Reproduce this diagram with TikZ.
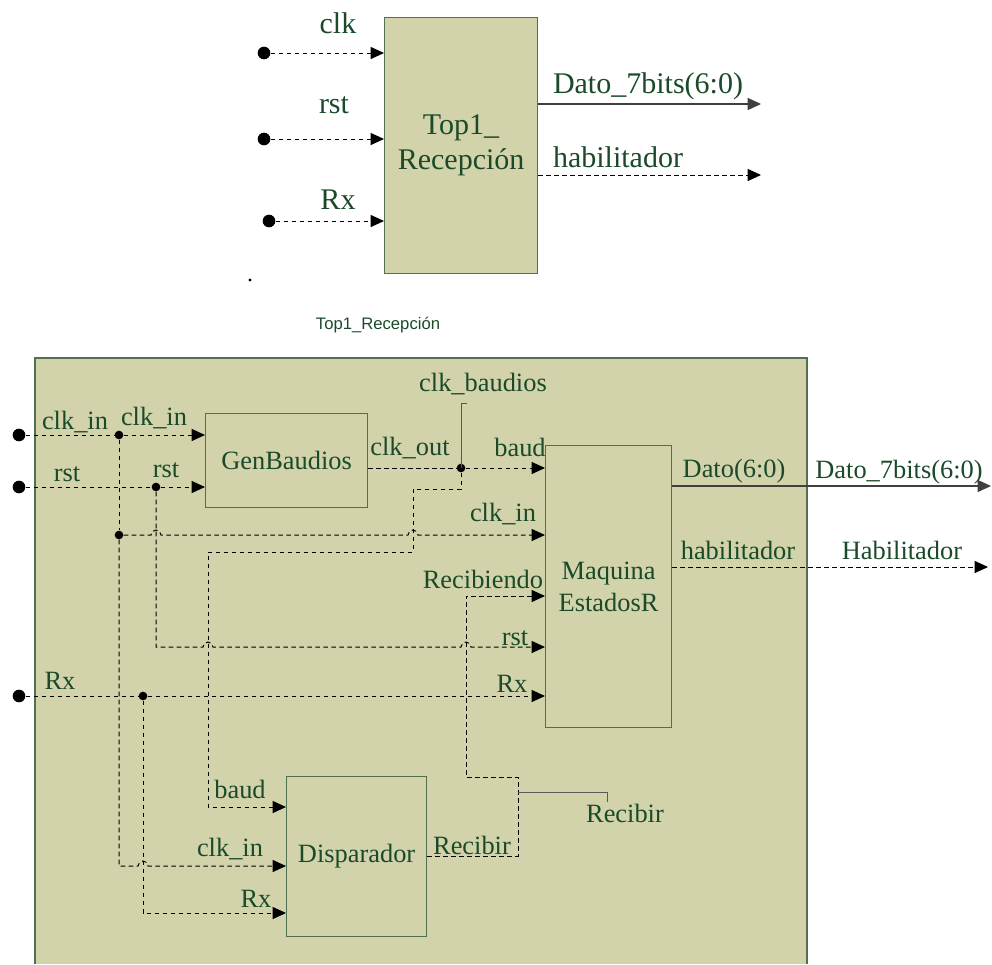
\documentclass[tikz,border=0pt]{standalone}
\usepackage{fontspec}
\setmainfont{Liberation Serif}
\newfontfamily\labelface{Liberation Serif}
\newfontfamily\capfont{Liberation Sans}
\usetikzlibrary{arrows.meta,calc}
\definecolor{panel}{RGB}{210,211,170}
\definecolor{edge}{RGB}{80,112,80}
\definecolor{ink}{RGB}{26,74,42}
\begin{document}
\begin{tikzpicture}[x=0.75pt,y=-0.75pt,
  lbl/.style={inner sep=0pt, text=ink, font=\labelface\fontsize{19.8}{24}\selectfont},
  biglbl/.style={inner sep=0pt, text=ink, font=\labelface\fontsize{22.5}{26.25}\selectfont},
  blk/.style={draw=edge, fill=panel, line width=0.9pt, anchor=north west, inner sep=0pt,
              text=ink, align=center, font=\labelface\fontsize{19.8}{24}\selectfont},
  sig/.style={draw=black, line width=0.75pt, dash pattern=on 3.5pt off 2.5pt,
              -{Triangle[length=10pt,width=9pt]}},
  wire/.style={draw=black, line width=0.75pt, dash pattern=on 3.5pt off 2.5pt},
  bus/.style={draw=black!75, line width=1pt, -{Triangle[length=10pt,width=9pt]}},
  port/.style={circle, fill=black, inner sep=0pt, minimum size=9.5pt},
  joint/.style={circle, fill=black, inner sep=0pt, minimum size=6.5pt},
  callout/.style={draw=black!65, line width=0.75pt},
]
\useasboundingbox (0,0) rectangle (992,964);

% ---------- entity symbol ----------
\node[blk, minimum width=114.75pt, minimum height=192pt,
      font=\labelface\fontsize{22.5}{26.25}\selectfont] (T) at (384,17) {Top1\_\\Recepción};

\node[port] (tClk) at (264,53) {};
\node[port] (tRst) at (264,139) {};
\node[port] (tRx) at (269,221) {};
\draw[sig] (tClk) -- (tClk -| T.west);
\draw[sig] (tRst) -- (tRst -| T.west);
\draw[sig] (tRx) -- (tRx -| T.west);
\node[biglbl] (ltClk) at (338,23) {clk};
\node[biglbl] (ltRst) at (334,105) {rst};
\node[biglbl] (ltRx) at (338,200) {Rx};

\coordinate (tData) at (761,104);
\coordinate (tEn) at (761,175);
\draw[bus] (T.east |- tData) -- (tData);
\draw[sig] (T.east |- tEn) -- (tEn);
\node[biglbl] (ltData) at (648,86) {Dato\_7bits(6:0)};
\node[biglbl] (ltEn) at (618,157) {habilitador};

\node[circle, fill=black, inner sep=0pt, minimum size=2.5pt] (speck) at (250,280) {};

\node[inner sep=0pt, text=ink, font=\capfont\fontsize{12.5}{15}\selectfont] (cap) at (378,325) {Top1\_Recepción};

% ---------- architecture panel ----------
\fill[panel] (35,358) rectangle (807,964);
\draw[edge, line width=1pt] (35,964) -- (35,358) -- (807,358) -- (807,964);

\node[blk, minimum width=121.5pt, minimum height=70.5pt] (GB) at (205,413) {GenBaudios};
\node[blk, minimum width=94.5pt, minimum height=211.5pt] (MQ) at (545,445) {Maquina\\EstadosR};
\node[blk, minimum width=105pt, minimum height=120pt] (DP) at (286,776) {Disparador};

% external inputs
\node[port] (pClk) at (19,435) {};
\node[port] (pRst) at (19,487) {};
\node[port] (pRx) at (19,696) {};

% branch points
\node[joint] (jClk) at (119,435) {};
\node[joint] (jClk2) at (119,535) {};
\node[joint] (jRst) at (156,487) {};
\node[joint] (jRx) at (143,696) {};
\node[joint] (jBaud) at (461,468) {};

% clk_in
\draw[wire] (pClk) -- (jClk);
\draw[sig] (jClk) -- ($(GB.north west)+(0,22)$);
\draw[wire] (jClk) -- (jClk2);
\draw[sig] (jClk2) -- (151,535) arc[start angle=180,end angle=0,radius=3.75pt]
  -- (408,535) arc[start angle=180,end angle=0,radius=3.75pt]
  -- ($(MQ.north west)+(0,90)$);
\draw[sig] (jClk2) -- (119,866) -- (138,866) arc[start angle=180,end angle=0,radius=3.75pt]
  -- ($(DP.north west)+(0,90)$);

% rst
\draw[wire] (pRst) -- (jRst);
\draw[sig] (jRst) -- ($(GB.north west)+(0,74)$);
\draw[sig] (jRst) -- (156,647) -- (203,647) arc[start angle=180,end angle=0,radius=3.75pt]
  -- (461,647) arc[start angle=180,end angle=0,radius=3.75pt]
  -- ($(MQ.north west)+(0,202)$);

% Rx
\draw[wire] (pRx) -- (jRx);
\draw[sig] (jRx) -- ($(MQ.north west)+(0,251)$);
\draw[sig] (jRx) -- (143,913) -- ($(DP.north west)+(0,137)$);

% clk_out -> baud
\draw[wire] ($(GB.north east)+(0,55)$) -- (jBaud);
\draw[sig] (jBaud) -- ($(MQ.north west)+(0,23)$);
\draw[sig] (jBaud) -- (461,489) -- (413,489) -- (413,552) -- (208,552) -- (208,807)
  -- ($(DP.north west)+(0,31)$);

% Recibir -> Recibiendo
\draw[sig] ($(DP.north east)+(0,80)$) -- (518,856) -- (518,777) -- (466,777) -- (466,596)
  -- ($(MQ.north west)+(0,151)$);

% outputs
\coordinate (oData) at (991,486);
\coordinate (oEn) at (988,567);
\draw[bus] ($(MQ.north east)+(0,41)$) -- (oData);
\draw[sig] ($(MQ.north east)+(0,122)$) -- (oEn);

% signal name callouts
\draw[callout] (467,403) -- (461,403) -- (jBaud.center);
\draw[callout] (518,792) -- (607,792) -- (607,802);

% labels
\node[lbl] (l1) at (75,422) {clk\_in};
\node[lbl] (l2) at (154,418) {clk\_in};
\node[lbl] (l3) at (67,474) {rst};
\node[lbl] (l4) at (166,470) {rst};
\node[lbl] (l5) at (60,681) {Rx};
\node[lbl] (l6) at (410,448) {clk\_out};
\node[lbl] (l7) at (483,384) {clk\_baudios};
\node[lbl] (l8) at (520,447) {baud};
\node[lbl] (l9) at (503,514) {clk\_in};
\node[lbl] (l10) at (483,579) {Recibiendo};
\node[lbl] (l11) at (515,638) {rst};
\node[lbl] (l12) at (512,684) {Rx};
\node[lbl] (l13) at (734,471) {Dato(6:0)};
\node[lbl] (l14) at (899,472) {Dato\_7bits(6:0)};
\node[lbl] (l15) at (738,550) {habilitador};
\node[lbl] (l16) at (902,550) {Habilitador};
\node[lbl] (l17) at (240,789) {baud};
\node[lbl] (l18) at (230,849) {clk\_in};
\node[lbl] (l19) at (256,899) {Rx};
\node[lbl] (l20) at (472,845) {Recibir};
\node[lbl] (l21) at (625,813) {Recibir};
\end{tikzpicture}
\end{document}
